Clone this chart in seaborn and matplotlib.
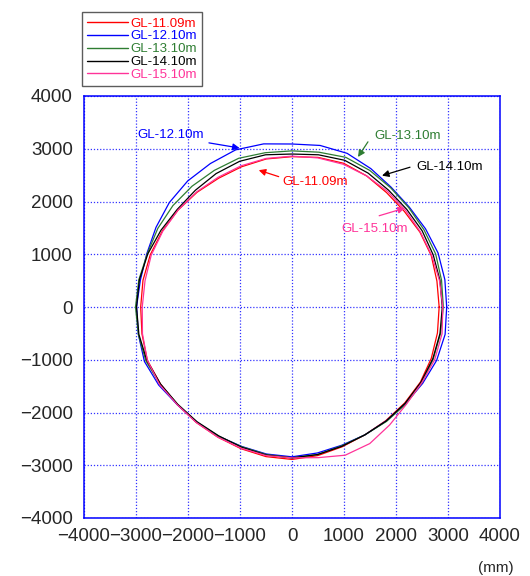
import numpy as np
import pandas as pd
import matplotlib
matplotlib.use('Agg')
import matplotlib.pyplot as plt
import seaborn as sns

# angle around the shaft (deg) and measured radius (mm) for each depth
angles = list(range(0, 360, 10))

r_1109 = [2830, 2830, 2850, 2840, 2820, 2830, 2870, 2900, 2880, 2850, 2850, 2830,
          2820, 2840, 2860, 2880, 2900, 2910, 2910, 2930, 2960, 2920, 2880, 2860,
          2850, 2860, 2880, 2890, 2860, 2820, 2800, 2810, 2830, 2850, 2850, 2840]
r_1210 = [2975, 2985, 2990, 2965, 2945, 2965, 3030, 3100, 3110, 3090, 3140, 3170,
          3140, 3120, 3080, 3020, 2970, 2960, 2990, 3000, 3020, 2960, 2880, 2850,
          2830, 2815, 2830, 2840, 2810, 2790, 2800, 2820, 2850, 2900, 2960, 2990]
r_1310 = [2910, 2920, 2940, 2930, 2930, 2950, 2990, 3020, 2980, 2960, 2970, 3000,
          2990, 2990, 2990, 2980, 2960, 2990, 3010, 3000, 2990, 2930, 2870, 2850,
          2830, 2820, 2840, 2860, 2840, 2800, 2800, 2830, 2860, 2880, 2890, 2900]
r_1410 = [2890, 2890, 2890, 2890, 2880, 2890, 2930, 2960, 2930, 2900, 2930, 2940,
          2920, 2890, 2880, 2910, 2950, 2980, 2990, 2990, 2970, 2920, 2870, 2840,
          2820, 2830, 2850, 2860, 2840, 2810, 2800, 2820, 2840, 2860, 2880, 2890]
r_1510 = [2900, 2880, 2860, 2850, 2850, 2860, 2870, 2880, 2870, 2860, 2860, 2850,
          2840, 2850, 2860, 2870, 2880, 2870, 2880, 2920, 2960, 2940, 2880, 2860,
          2850, 2850, 2860, 2860, 2900, 2990, 2990, 2920, 2870, 2880, 2920, 2930]

labels = ['GL-11.09m', 'GL-12.10m', 'GL-13.10m', 'GL-14.10m', 'GL-15.10m']
radii = [r_1109, r_1210, r_1310, r_1410, r_1510]
colors = ['#ff0000', '#0000ff', '#2e7d32', '#000000', '#ff3399']

ticks = [-4000, -3000, -2000, -1000, 0, 1000, 2000, 3000, 4000]

# build x/y table (closed loops)
rows = []
for lab, r in zip(labels, radii):
    a = np.deg2rad(angles + [angles[0]])
    rr = np.array(r + [r[0]])
    for i, (ai, ri) in enumerate(zip(a, rr)):
        rows.append({'depth': lab, 'order': i, 'x': ri * np.cos(ai), 'y': ri * np.sin(ai)})
df = pd.DataFrame(rows)

sns.set_style('white')
plt.rcParams['font.family'] = ['Liberation Sans', 'DejaVu Sans']

fig = plt.figure(figsize=(5.3, 5.76), dpi=100)
ax = fig.add_axes([84 / 530, 58 / 576, 416 / 530, 422 / 576])

sns.lineplot(data=df, x='x', y='y', hue='depth', palette=dict(zip(labels, colors)),
             sort=False, estimator=None, units='depth', linewidth=0.9, ax=ax, legend=False)

ax.set_xlim(-4000, 4000)
ax.set_ylim(-4000, 4000)
ax.set_xticks(ticks)
ax.set_yticks(ticks)
ax.tick_params(labelsize=13.5, direction='in', length=4, color='#0000ff')
ax.tick_params(axis='x', pad=7)
ax.tick_params(axis='y', pad=8)
ax.grid(True, color='#3333ff', linestyle=(0, (1, 1.5)), linewidth=0.9)
for s in ax.spines.values():
    s.set_color('#0000ff')
    s.set_linewidth(1.1)
ax.set_xlabel('')
ax.set_ylabel('')

# callouts
notes = [
    ('GL-12.10m', '#0000ff', (-2975, 3270), (-1650, 3120), (-955, 3005)),
    ('GL-13.10m', '#2e7d32', (1580, 3250), (1490, 3175), (1240, 2800)),
    ('GL-14.10m', '#000000', (2400, 2650), (2320, 2665), (1680, 2475)),
    ('GL-11.09m', '#ff0000', (-180, 2365), (-205, 2455), (-690, 2610)),
    ('GL-15.10m', '#ff3399', (950, 1470), (1625, 1715), (2220, 1890)),
]
for txt, c, pos, a0, a1 in notes:
    ax.text(pos[0], pos[1], txt, color=c, fontsize=9.5, ha='left', va='center')
    ax.annotate('', xy=a1, xytext=a0,
                arrowprops=dict(arrowstyle='-|>', color=c, lw=0.9, mutation_scale=10))

handles = [plt.Line2D([], [], color=c, lw=1) for c in colors]
leg = fig.legend(handles, labels, loc='upper left', bbox_to_anchor=(82 / 530, 1 - 12 / 576),
                 bbox_transform=fig.transFigure, borderaxespad=0, fontsize=9.5,
                 frameon=True, fancybox=False, handlelength=3.1, handletextpad=0.15,
                 labelspacing=0.05, borderpad=0.4)
leg.get_frame().set_edgecolor('#333333')
leg.get_frame().set_linewidth(1.0)
for t, c in zip(leg.get_texts(), colors):
    t.set_color(c)

fig.text(478 / 530, 1 - 568 / 576, '(mm)', fontsize=11, ha='left', va='center')

fig.savefig('out.png', dpi=100)
